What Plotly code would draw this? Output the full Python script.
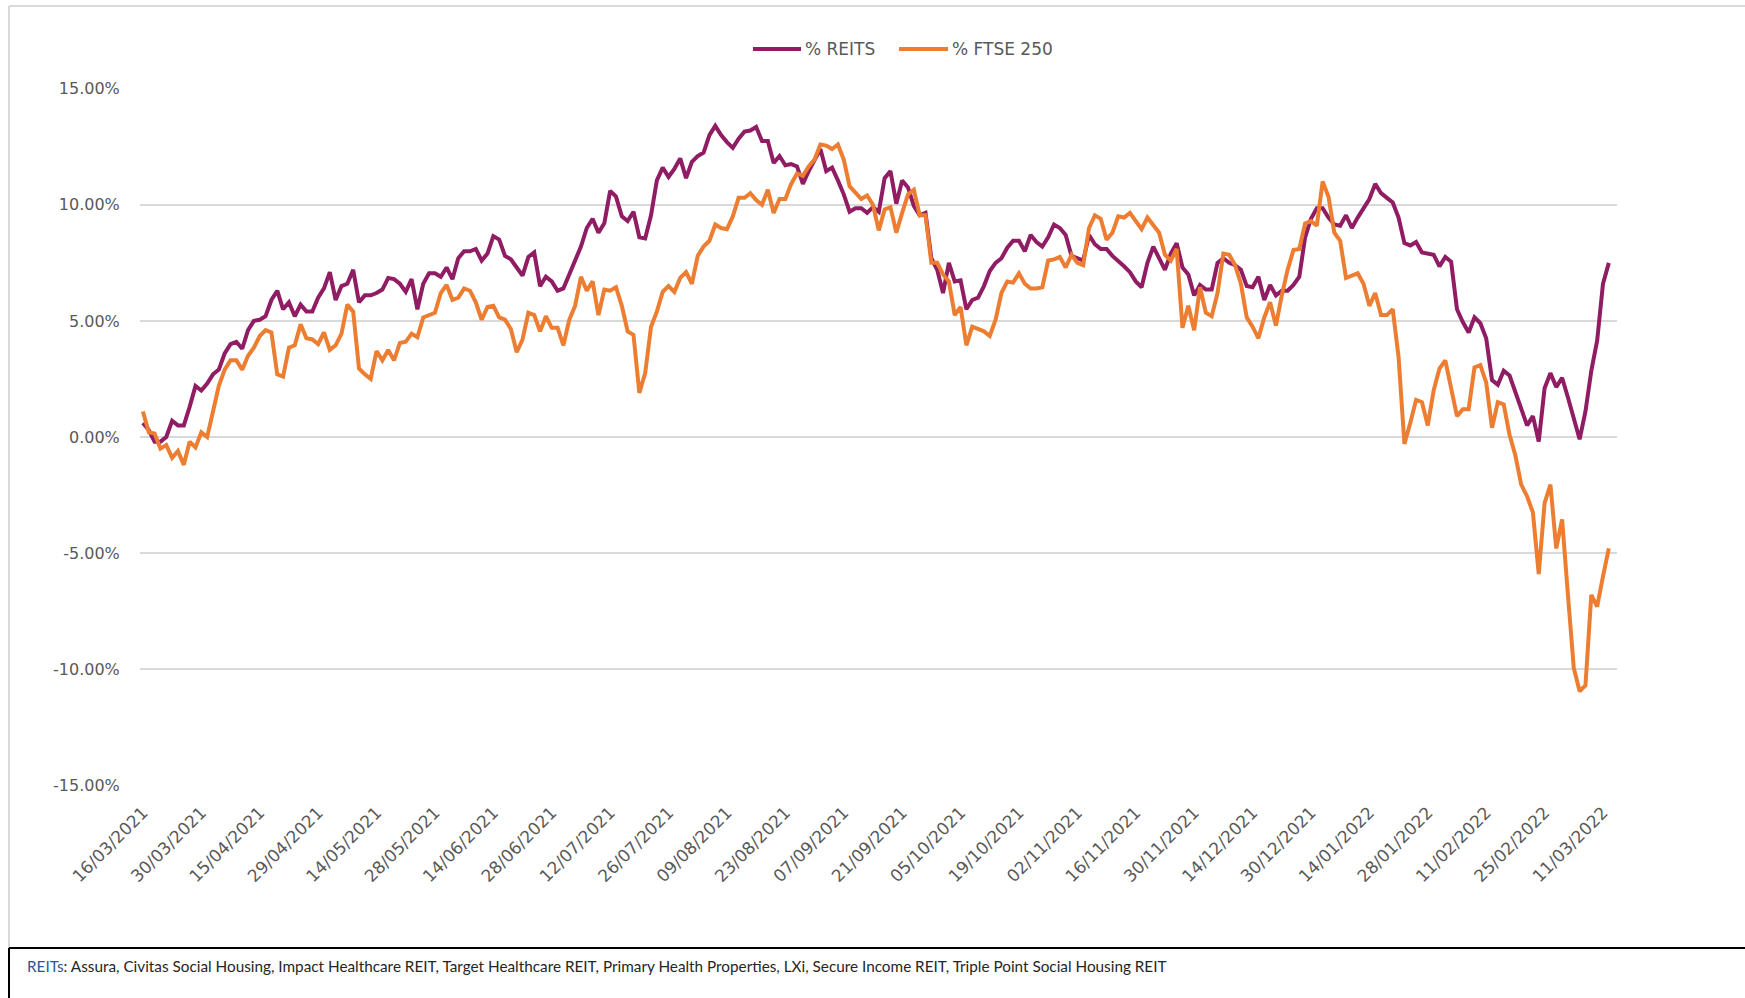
import pandas as pd
import plotly.graph_objects as go

# UK trading days (category axis, as in the original Excel chart)
uk_holidays = ["2021-04-02", "2021-04-05", "2021-05-03", "2021-05-31",
               "2021-08-30", "2021-12-27", "2021-12-28", "2022-01-03"]
trading_days = pd.bdate_range("2021-03-16", "2022-03-14", freq="C", holidays=uk_holidays)
dates = [d.strftime("%d/%m/%Y") for d in trading_days]

# % change, REITS basket
reits_pct = [
    0.6, 0.3, -0.2, -0.2, 0.0, 0.7, 0.5, 0.5, 1.3, 2.2,
    2.0, 2.3, 2.7, 2.9, 3.6, 4.0, 4.1, 3.8, 4.6, 5.0,
    5.05, 5.2, 5.9, 6.3, 5.5, 5.8, 5.2, 5.7, 5.4, 5.4,
    6.0, 6.4, 7.1, 5.9, 6.5, 6.6, 7.2, 5.8, 6.1, 6.1,
    6.2, 6.35, 6.85, 6.8, 6.6, 6.25, 6.8, 5.5, 6.6, 7.05,
    7.05, 6.9, 7.3, 6.8, 7.7, 8.0, 8.0, 8.1, 7.6, 7.9,
    8.65, 8.5, 7.8, 7.65, 7.3, 6.95, 7.75, 7.95, 6.5, 6.9,
    6.7, 6.3, 6.4, 7.0, 7.6, 8.2, 9.0, 9.4, 8.8, 9.2,
    10.6, 10.35, 9.5, 9.3, 9.7, 8.6, 8.55, 9.55, 11.05, 11.6,
    11.2, 11.55, 12.0, 11.15, 11.85, 12.1, 12.25, 13.0, 13.4, 13.0,
    12.7, 12.45, 12.85, 13.15, 13.2, 13.35, 12.75, 12.75, 11.8, 12.1,
    11.7, 11.75, 11.65, 10.9, 11.45, 11.95, 12.4, 11.45, 11.6, 11.05,
    10.45, 9.7, 9.85, 9.85, 9.65, 9.9, 9.7, 11.15, 11.45, 10.05,
    11.05, 10.75, 9.95, 9.55, 9.65, 7.7, 7.2, 6.2, 7.5, 6.7,
    6.75, 5.5, 5.9, 6.0, 6.5, 7.15, 7.5, 7.7, 8.15, 8.45,
    8.45, 8.0, 8.7, 8.4, 8.2, 8.6, 9.15, 9.0, 8.7, 7.8,
    7.7, 7.6, 8.7, 8.3, 8.1, 8.1, 7.8, 7.6, 7.35, 7.1,
    6.7, 6.45, 7.5, 8.2, 7.7, 7.2, 7.9, 8.35, 7.3, 7.0,
    6.1, 6.55, 6.35, 6.35, 7.5, 7.7, 7.5, 7.4, 7.2, 6.5,
    6.45, 6.9, 5.9, 6.55, 6.1, 6.3, 6.3, 6.55, 6.9, 8.6,
    9.4, 9.85, 9.85, 9.45, 9.15, 9.1, 9.55, 9.0, 9.45, 9.85,
    10.25, 10.9, 10.5, 10.3, 10.1, 9.45, 8.35, 8.25, 8.4, 7.95,
    7.9, 7.85, 7.35, 7.75, 7.55, 5.5, 4.95, 4.5, 5.15, 4.9,
    4.25, 2.45, 2.25, 2.85, 2.65, 1.95, 1.2, 0.5, 0.9, -0.2,
    2.1, 2.75, 2.15, 2.55, 1.7, 0.8, -0.1, 1.1, 2.85, 4.15,
    6.6, 7.5,
]

# % change, FTSE 250
ftse_pct = [
    1.1, 0.2, 0.15, -0.5, -0.35, -0.9, -0.6, -1.2, -0.2, -0.45,
    0.2, 0.0, 1.1, 2.2, 2.9, 3.3, 3.3, 2.9, 3.5, 3.85,
    4.35, 4.6, 4.5, 2.7, 2.6, 3.85, 3.95, 4.85, 4.25, 4.2,
    4.0, 4.5, 3.75, 3.95, 4.45, 5.7, 5.4, 2.95, 2.7, 2.5,
    3.7, 3.3, 3.75, 3.3, 4.05, 4.1, 4.45, 4.3, 5.15, 5.25,
    5.35, 6.2, 6.55, 5.9, 6.0, 6.4, 6.3, 5.8, 5.05, 5.6,
    5.65, 5.15, 5.05, 4.65, 3.65, 4.2, 5.35, 5.25, 4.55, 5.2,
    4.7, 4.7, 3.95, 5.05, 5.65, 6.9, 6.3, 6.7, 5.25, 6.35,
    6.3, 6.45, 5.65, 4.55, 4.4, 1.9, 2.75, 4.75, 5.4, 6.25,
    6.5, 6.25, 6.85, 7.1, 6.6, 7.8, 8.2, 8.45, 9.15, 9.0,
    8.95, 9.5, 10.3, 10.3, 10.5, 10.2, 10.0, 10.65, 9.65, 10.25,
    10.25, 10.9, 11.35, 11.25, 11.65, 11.95, 12.6, 12.55, 12.4, 12.6,
    11.95, 10.8, 10.55, 10.25, 10.4, 10.0, 8.9, 9.8, 9.9, 8.8,
    9.65, 10.45, 10.65, 9.55, 9.55, 7.5, 7.5, 7.0, 6.7, 5.25,
    5.6, 3.95, 4.75, 4.65, 4.55, 4.35, 5.05, 6.2, 6.7, 6.65,
    7.05, 6.6, 6.4, 6.4, 6.45, 7.6, 7.65, 7.75, 7.3, 7.85,
    7.5, 7.4, 9.0, 9.55, 9.4, 8.5, 8.8, 9.5, 9.45, 9.65,
    9.3, 8.95, 9.45, 9.1, 8.8, 7.85, 7.6, 8.1, 4.7, 5.65,
    4.6, 6.45, 5.35, 5.2, 6.2, 7.9, 7.85, 7.4, 6.6, 5.15,
    4.75, 4.25, 5.15, 5.8, 4.8, 6.1, 7.2, 8.05, 8.1, 9.2,
    9.3, 9.1, 11.0, 10.35, 8.8, 8.45, 6.85, 6.95, 7.05, 6.6,
    5.65, 6.2, 5.25, 5.25, 5.5, 3.45, -0.3, 0.6, 1.6, 1.5,
    0.5, 2.0, 2.95, 3.3, 2.05, 0.9, 1.2, 1.2, 3.0, 3.1,
    2.35, 0.4, 1.5, 1.4, 0.1, -0.8, -2.05, -2.55, -3.25, -5.9,
    -2.85, -2.05, -4.8, -3.55, -6.8, -9.95, -10.95, -10.7, -6.8, -7.3,
    -6.0, -4.8,
]

series_names = ["% REITS", "% FTSE 250"]
y_ticks = [-0.15, -0.10, -0.05, 0.0, 0.05, 0.10, 0.15]
y_tick_labels = ["-15.00%", "-10.00%", "-5.00%", "0.00%", "5.00%", "10.00%", "15.00%"]
x_tick_labels = dates[0:251:10]
footnote = ("<span style='color:#2F5597'>REITs</span>: Assura, Civitas Social Housing, "
            "Impact Healthcare REIT, Target Healthcare REIT, Primary Health Properties, "
            "LXi, Secure Income REIT, Triple Point Social Housing REIT")

n = min(len(dates), len(reits_pct), len(ftse_pct))

PURPLE = "#901C63"
ORANGE = "#ED7D31"
GREY_TXT = "#595959"
FONT = "DejaVu Sans"
colors = [PURPLE, ORANGE]

fig = go.Figure()
for name, vals, col in zip(series_names, [reits_pct, ftse_pct], colors):
    fig.add_trace(go.Scatter(x=dates[:n], y=[v / 100 for v in vals[:n]], mode="lines",
                             name=name, line=dict(color=col, width=4), showlegend=False))

W, H = 1745, 998
L, R, T, B = 140, 128, 88, 212
pw, ph = W - L - R, H - T - B


def px(x):
    return (x - L) / pw


def py(y):
    return (H - B - y) / ph


shapes = [
    # chart-area border (light grey)
    dict(type="line", xref="paper", yref="paper", x0=px(9), x1=px(W + 5), y0=py(6), y1=py(6),
         line=dict(color="#D9D9D9", width=2)),
    dict(type="line", xref="paper", yref="paper", x0=px(9), x1=px(9), y0=py(6), y1=py(948),
         line=dict(color="#D9D9D9", width=2)),
    # footnote box (black)
    dict(type="line", xref="paper", yref="paper", x0=px(9), x1=px(W + 5), y0=py(948), y1=py(948),
         line=dict(color="#000000", width=2)),
    dict(type="line", xref="paper", yref="paper", x0=px(9), x1=px(9), y0=py(948), y1=py(H + 5),
         line=dict(color="#000000", width=2)),
]
annotations = [
    dict(text=footnote, xref="paper", yref="paper", x=px(25), y=py(966),
         xanchor="left", yanchor="middle", showarrow=False,
         font=dict(family="Lato", size=15.3, color="#262626")),
]

# legend (top, centred) drawn as line + label pairs
legend_x = [(753, 801, 803), (899, 948, 950)]
for (lx0, lx1, tx), name, col in zip(legend_x, series_names, colors):
    shapes.append(dict(type="line", xref="paper", yref="paper", x0=px(lx0), x1=px(lx1),
                       y0=py(49), y1=py(49), line=dict(color=col, width=4)))
    annotations.append(dict(text=name, xref="paper", yref="paper", x=px(tx), y=py(49),
                            xanchor="left", yanchor="middle", showarrow=False,
                            font=dict(family=FONT, size=17, color=GREY_TXT)))

fig.update_layout(
    width=W, height=H, autosize=False,
    margin=dict(l=L, r=R, t=T, b=B, pad=0),
    paper_bgcolor="white", plot_bgcolor="white",
    font=dict(family=FONT, size=16, color=GREY_TXT),
    showlegend=False,
    xaxis=dict(type="category", range=[-0.5, 252.4], tickmode="array",
               tickvals=x_tick_labels, ticktext=x_tick_labels, tickangle=-45,
               showgrid=False, zeroline=False, showline=False,
               ticks="outside", ticklen=9, tickcolor="rgba(0,0,0,0)",
               tickfont=dict(family=FONT, size=17, color=GREY_TXT)),
    yaxis=dict(range=[-0.1503, 0.1503], tickmode="array", tickvals=y_ticks,
               ticktext=y_tick_labels, showgrid=True, gridcolor="#D9D9D9", gridwidth=1.5,
               zeroline=False, showline=False,
               ticks="outside", ticklen=16, tickcolor="rgba(0,0,0,0)",
               tickfont=dict(family=FONT, size=16, color=GREY_TXT)),
    shapes=shapes,
    annotations=annotations,
)

fig.write_html("out.html", config={"displayModeBar": False},
               post_script="document.body.style.margin='0px';")
